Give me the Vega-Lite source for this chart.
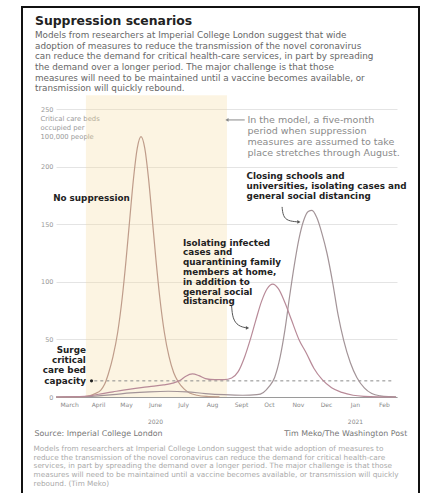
{
  "$schema": "https://vega.github.io/schema/vega-lite/v6.json",
  "width": 397,
  "height": 488,
  "autosize": {"type": "none"},
  "padding": {"left": 22, "top": 7, "right": 2, "bottom": 0},
  "background": "white",
  "config": {
    "view": {"stroke": "#111", "strokeWidth": 2},
    "font": "DejaVu Sans"
  },
  "title": {
    "text": "Suppression scenarios",
    "subtitle": [
      "Models from researchers at Imperial College London suggest that wide",
      "adoption of measures to reduce the transmission of the novel coronavirus",
      "can reduce the demand for critical health-care services, in part by spreading",
      "the demand over a longer period. The major challenge is that those",
      "measures will need to be maintained until a vaccine becomes available, or",
      "transmission will quickly rebound."
    ],
    "anchor": "start",
    "frame": "group",
    "dx": 13,
    "dy": 86,
    "offset": 0,
    "font": "DejaVu Sans",
    "fontSize": 12.4,
    "fontWeight": "bold",
    "color": "#222",
    "subtitleFont": "DejaVu Sans",
    "subtitleFontSize": 8.8,
    "subtitleColor": "#666",
    "subtitleLineHeight": 10.6,
    "subtitlePadding": 4
  },
  "datasets": {
    "curves": [
      {"s": "ns", "date": "2020-03-01", "v": 0},
      {"s": "ns", "date": "2020-03-31", "v": 0.3},
      {"s": "ns", "date": "2020-04-06", "v": 1},
      {"s": "ns", "date": "2020-04-12", "v": 3},
      {"s": "ns", "date": "2020-04-18", "v": 6},
      {"s": "ns", "date": "2020-04-22", "v": 11},
      {"s": "ns", "date": "2020-04-26", "v": 20},
      {"s": "ns", "date": "2020-05-01", "v": 35},
      {"s": "ns", "date": "2020-05-06", "v": 56},
      {"s": "ns", "date": "2020-05-11", "v": 87},
      {"s": "ns", "date": "2020-05-15", "v": 119},
      {"s": "ns", "date": "2020-05-19", "v": 155},
      {"s": "ns", "date": "2020-05-23", "v": 190},
      {"s": "ns", "date": "2020-05-27", "v": 216},
      {"s": "ns", "date": "2020-05-31", "v": 226},
      {"s": "ns", "date": "2020-06-04", "v": 216},
      {"s": "ns", "date": "2020-06-08", "v": 190},
      {"s": "ns", "date": "2020-06-12", "v": 155},
      {"s": "ns", "date": "2020-06-16", "v": 119},
      {"s": "ns", "date": "2020-06-20", "v": 87},
      {"s": "ns", "date": "2020-06-25", "v": 56},
      {"s": "ns", "date": "2020-06-30", "v": 35},
      {"s": "ns", "date": "2020-07-05", "v": 21},
      {"s": "ns", "date": "2020-07-10", "v": 13},
      {"s": "ns", "date": "2020-07-16", "v": 7},
      {"s": "ns", "date": "2020-07-22", "v": 3.5},
      {"s": "ns", "date": "2020-07-30", "v": 1.5},
      {"s": "ns", "date": "2020-08-09", "v": 0.5},
      {"s": "ns", "date": "2020-08-23", "v": 0.1},
      {"s": "cs", "date": "2020-03-01", "v": 0},
      {"s": "cs", "date": "2020-04-01", "v": 0.3},
      {"s": "cs", "date": "2020-04-15", "v": 1},
      {"s": "cs", "date": "2020-05-01", "v": 2},
      {"s": "cs", "date": "2020-05-20", "v": 3.5},
      {"s": "cs", "date": "2020-06-09", "v": 4.5},
      {"s": "cs", "date": "2020-06-29", "v": 5},
      {"s": "cs", "date": "2020-07-19", "v": 4.5},
      {"s": "cs", "date": "2020-08-08", "v": 3},
      {"s": "cs", "date": "2020-08-28", "v": 2},
      {"s": "cs", "date": "2020-09-17", "v": 1.5},
      {"s": "cs", "date": "2020-10-02", "v": 2},
      {"s": "cs", "date": "2020-10-09", "v": 4},
      {"s": "cs", "date": "2020-10-15", "v": 9},
      {"s": "cs", "date": "2020-10-21", "v": 17},
      {"s": "cs", "date": "2020-10-27", "v": 35},
      {"s": "cs", "date": "2020-11-01", "v": 58},
      {"s": "cs", "date": "2020-11-06", "v": 87},
      {"s": "cs", "date": "2020-11-11", "v": 114},
      {"s": "cs", "date": "2020-11-16", "v": 137},
      {"s": "cs", "date": "2020-11-21", "v": 153},
      {"s": "cs", "date": "2020-11-26", "v": 161},
      {"s": "cs", "date": "2020-11-30", "v": 162},
      {"s": "cs", "date": "2020-12-05", "v": 156},
      {"s": "cs", "date": "2020-12-11", "v": 141},
      {"s": "cs", "date": "2020-12-16", "v": 125},
      {"s": "cs", "date": "2020-12-22", "v": 100},
      {"s": "cs", "date": "2020-12-28", "v": 71},
      {"s": "cs", "date": "2021-01-03", "v": 49},
      {"s": "cs", "date": "2021-01-10", "v": 30},
      {"s": "cs", "date": "2021-01-17", "v": 17},
      {"s": "cs", "date": "2021-01-25", "v": 8},
      {"s": "cs", "date": "2021-02-02", "v": 3},
      {"s": "cs", "date": "2021-02-11", "v": 1},
      {"s": "cs", "date": "2021-02-22", "v": 0.3},
      {"s": "cs", "date": "2021-02-28", "v": 0.1},
      {"s": "iso", "date": "2020-03-01", "v": 0},
      {"s": "iso", "date": "2020-04-01", "v": 0.5},
      {"s": "iso", "date": "2020-04-10", "v": 1.5},
      {"s": "iso", "date": "2020-04-20", "v": 3},
      {"s": "iso", "date": "2020-05-01", "v": 4.5},
      {"s": "iso", "date": "2020-05-12", "v": 6},
      {"s": "iso", "date": "2020-05-25", "v": 7.5},
      {"s": "iso", "date": "2020-06-09", "v": 9},
      {"s": "iso", "date": "2020-06-24", "v": 10.5},
      {"s": "iso", "date": "2020-07-04", "v": 12},
      {"s": "iso", "date": "2020-07-12", "v": 14.5},
      {"s": "iso", "date": "2020-07-18", "v": 18},
      {"s": "iso", "date": "2020-07-25", "v": 20},
      {"s": "iso", "date": "2020-08-01", "v": 18.5},
      {"s": "iso", "date": "2020-08-08", "v": 16},
      {"s": "iso", "date": "2020-08-18", "v": 15},
      {"s": "iso", "date": "2020-08-28", "v": 15},
      {"s": "iso", "date": "2020-09-05", "v": 16.5},
      {"s": "iso", "date": "2020-09-12", "v": 22},
      {"s": "iso", "date": "2020-09-19", "v": 35},
      {"s": "iso", "date": "2020-09-25", "v": 50},
      {"s": "iso", "date": "2020-10-01", "v": 67},
      {"s": "iso", "date": "2020-10-07", "v": 83},
      {"s": "iso", "date": "2020-10-13", "v": 94},
      {"s": "iso", "date": "2020-10-19", "v": 98},
      {"s": "iso", "date": "2020-10-25", "v": 94},
      {"s": "iso", "date": "2020-11-01", "v": 82},
      {"s": "iso", "date": "2020-11-08", "v": 67},
      {"s": "iso", "date": "2020-11-16", "v": 50},
      {"s": "iso", "date": "2020-11-24", "v": 38},
      {"s": "iso", "date": "2020-12-02", "v": 25},
      {"s": "iso", "date": "2020-12-11", "v": 15},
      {"s": "iso", "date": "2020-12-21", "v": 8},
      {"s": "iso", "date": "2021-01-01", "v": 4},
      {"s": "iso", "date": "2021-01-13", "v": 1.5},
      {"s": "iso", "date": "2021-01-25", "v": 0.5},
      {"s": "iso", "date": "2021-02-09", "v": 0.1},
      {"s": "iso", "date": "2021-02-28", "v": 0}
    ],
    "shade": [{"date": "2020-04-02", "date2": "2020-08-31", "v": 0, "v2": 262}],
    "surge": [{"date": "2020-04-11", "date2": "2021-02-26", "v": 14}],
    "surgeDot": [{"date": "2020-04-08", "v": 14}],
    "modelArrow": [{"date": "2020-08-31", "date2": "2020-09-19", "v": 240.5}],
    "modelHead": [{"date": "2020-08-31", "v": 240.5}],
    "hooks": [
      {"a": "iso", "o": 1, "date": "2020-09-05", "v": 79},
      {"a": "iso", "o": 2, "date": "2020-09-06", "v": 68},
      {"a": "iso", "o": 3, "date": "2020-09-12", "v": 61.5},
      {"a": "iso", "o": 4, "date": "2020-09-21", "v": 60},
      {"a": "cs", "o": 1, "date": "2020-10-29", "v": 165},
      {"a": "cs", "o": 2, "date": "2020-10-30", "v": 157},
      {"a": "cs", "o": 3, "date": "2020-11-04", "v": 152.8},
      {"a": "cs", "o": 4, "date": "2020-11-15", "v": 152}
    ],
    "hookHeads": [
      {"date": "2020-09-22", "v": 60},
      {"date": "2020-11-16", "v": 152}
    ],
    "boldRight": [
      {"date": "2020-05-19", "v": 176.5, "label": ["No suppression"]},
      {"date": "2020-04-02", "v": 44.5, "label": ["Surge", "critical", "care bed", "capacity"]}
    ],
    "boldLeft": [
      {"date": "2020-07-15", "v": 137.5, "label": ["Isolating infected", "cases and", "quarantining family", "members at home,", "in addition to", "general social", "distancing"]},
      {"date": "2020-09-21", "v": 195, "label": ["Closing schools and", "universities, isolating cases and", "general social distancing"]}
    ],
    "grayNote": [
      {"date": "2020-09-22", "v": 245, "label": ["In the model, a five-month", "period when suppression", "measures are assumed to take", "place stretches through August."]}
    ],
    "source": [{"date": "2020-02-07", "v": -32, "label": "Source: Imperial College London"}],
    "credit": [{"date": "2021-03-12", "v": -32, "label": "Tim Meko/The Washington Post"}],
    "caption": [
      {"date": "2020-02-06", "v": -41.5, "label": [
        "Models from researchers at Imperial College London suggest that wide adoption of measures to",
        "reduce the transmission of the novel coronavirus can reduce the demand for critical health-care",
        "services, in part by spreading the demand over a longer period. The major challenge is that those",
        "measures will need to be maintained until a vaccine becomes available, or transmission will quickly",
        "rebound. (Tim Meko)"
      ]}
    ]
  },
  "encoding": {
    "x": {
      "field": "date", "type": "temporal",
      "scale": {
        "type": "utc",
        "domain": [{"year": 2020, "month": 3, "date": 1, "utc": true}, {"year": 2021, "month": 3, "date": 1, "utc": true}],
        "range": [34, 375]
      },
      "axis": {
        "orient": "bottom",
        "offset": -98,
        "title": null,
        "grid": false,
        "ticks": false,
        "domain": true,
        "domainColor": "#9a9a9a",
        "domainWidth": 1,
        "labelPadding": 4,
        "labelFont": "DejaVu Sans",
        "labelFontSize": 6,
        "labelColor": "#888",
        "labelLineHeight": 17,
        "labelOverlap": false,
        "labelFlush": false,
        "labelBound": false,
        "values": [
          {"year": 2020, "month": 3, "date": 15, "utc": true},
          {"year": 2020, "month": 4, "date": 15, "utc": true},
          {"year": 2020, "month": 5, "date": 15, "utc": true},
          {"year": 2020, "month": 6, "date": 15, "utc": true},
          {"year": 2020, "month": 7, "date": 15, "utc": true},
          {"year": 2020, "month": 8, "date": 15, "utc": true},
          {"year": 2020, "month": 9, "date": 15, "utc": true},
          {"year": 2020, "month": 10, "date": 15, "utc": true},
          {"year": 2020, "month": 11, "date": 15, "utc": true},
          {"year": 2020, "month": 12, "date": 15, "utc": true},
          {"year": 2021, "month": 1, "date": 15, "utc": true},
          {"year": 2021, "month": 2, "date": 15, "utc": true}
        ],
        "labelExpr": "utcmonth(datum.value) == 5 ? ['June', '2020'] : utcmonth(datum.value) == 0 ? ['Jan', '2021'] : ['Jan','Feb','March','April','May','June','July','Aug','Sept','Oct','Nov','Dec'][utcmonth(datum.value)]"
      }
    },
    "y": {
      "field": "v", "type": "quantitative",
      "scale": {"domain": [0, 250], "range": [390, 102], "nice": false, "zero": false},
      "axis": {
        "orient": "left",
        "offset": -34,
        "values": [0, 50, 100, 150, 200, 250],
        "domain": false,
        "ticks": false,
        "grid": true,
        "gridColor": "#e4e4e4",
        "gridWidth": 1,
        "labelPadding": 3,
        "labelFont": "DejaVu Sans",
        "labelFontSize": 6.5,
        "labelColor": "#999",
        "title": ["Critical care beds", "occupied per", "100,000 people"],
        "titleFont": "DejaVu Sans",
        "titleAngle": 0,
        "titleAlign": "left",
        "titleBaseline": "top",
        "titleX": -16,
        "titleY": 108,
        "titleFontSize": 6.8,
        "titleFontWeight": "normal",
        "titleColor": "#999",
        "titleLineHeight": 9
      }
    }
  },
  "layer": [
    {
      "data": {"name": "shade"},
      "mark": {"type": "rect", "color": "#f5d9a0", "opacity": 0.3},
      "encoding": {
        "x2": {"field": "date2"},
        "y2": {"field": "v2"}
      }
    },
    {
      "data": {"name": "surge"},
      "mark": {"type": "rule", "color": "#8a8a8a", "strokeDash": [3, 3], "strokeWidth": 1},
      "encoding": {
        "x2": {"field": "date2"}
      }
    },
    {
      "data": {"name": "curves"},
      "mark": {"type": "line", "strokeWidth": 1.2, "interpolate": "monotone"},
      "encoding": {
        "color": {
          "field": "s", "type": "nominal",
          "scale": {"domain": ["ns", "cs", "iso"], "range": ["#bf9c8a", "#a39498", "#b88a98"]},
          "legend": null
        }
      }
    },
    {
      "data": {"name": "surgeDot"},
      "mark": {"type": "point", "shape": "circle", "filled": true, "size": 10, "color": "#222", "opacity": 1}
    },
    {
      "data": {"name": "modelArrow"},
      "mark": {"type": "rule", "color": "#888", "strokeWidth": 1},
      "encoding": {
        "x2": {"field": "date2"}
      }
    },
    {
      "data": {"name": "modelHead"},
      "mark": {"type": "point", "shape": "triangle-left", "filled": true, "size": 14, "color": "#888", "opacity": 1}
    },
    {
      "data": {"name": "hooks"},
      "mark": {"type": "line", "color": "#555", "strokeWidth": 1, "interpolate": "basis"},
      "encoding": {
        "detail": {"field": "a", "type": "nominal"},
        "order": {"field": "o", "type": "quantitative"}
      }
    },
    {
      "data": {"name": "hookHeads"},
      "mark": {"type": "point", "shape": "triangle-right", "filled": true, "size": 14, "color": "#555", "opacity": 1}
    },
    {
      "data": {"name": "boldRight"},
      "mark": {"type": "text", "align": "right", "baseline": "top", "fontWeight": "bold", "fontSize": 8.8, "lineHeight": 10.3, "color": "#222"},
      "encoding": {
        "text": {"field": "label"}
      }
    },
    {
      "data": {"name": "boldLeft"},
      "mark": {"type": "text", "align": "left", "baseline": "top", "fontWeight": "bold", "fontSize": 8.8, "lineHeight": 9.8, "color": "#222"},
      "encoding": {
        "text": {"field": "label"}
      }
    },
    {
      "data": {"name": "grayNote"},
      "mark": {"type": "text", "align": "left", "baseline": "top", "fontSize": 9.5, "lineHeight": 11, "color": "#8a8a8a"},
      "encoding": {
        "text": {"field": "label"}
      }
    },
    {
      "data": {"name": "source"},
      "mark": {"type": "text", "align": "left", "baseline": "middle", "fontSize": 7.9, "color": "#777"},
      "encoding": {
        "text": {"field": "label"}
      }
    },
    {
      "data": {"name": "credit"},
      "mark": {"type": "text", "align": "right", "baseline": "middle", "fontSize": 7.9, "color": "#777"},
      "encoding": {
        "text": {"field": "label"}
      }
    },
    {
      "data": {"name": "caption"},
      "mark": {"type": "text", "align": "left", "baseline": "top", "fontSize": 7.3, "lineHeight": 8.8, "color": "#aaa"},
      "encoding": {
        "text": {"field": "label"}
      }
    }
  ]
}
